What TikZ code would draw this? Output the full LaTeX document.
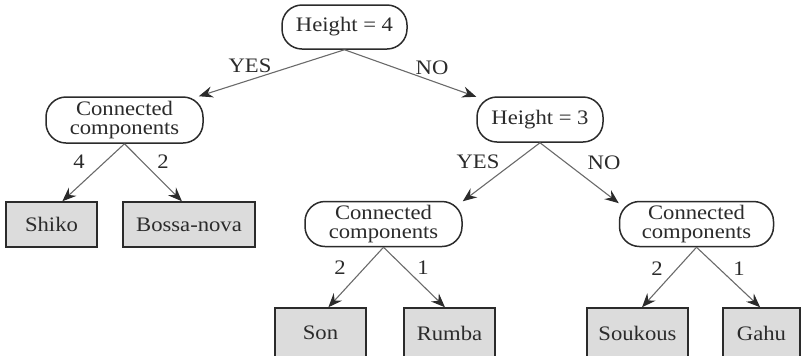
\documentclass[tikz,border=0pt]{standalone}
\usepackage{fontspec}
\setmainfont[FakeStretch=1.1]{Liberation Serif}
\usetikzlibrary{arrows.meta}

\definecolor{inkdark}{HTML}{2B2B2B}
\definecolor{linegray}{HTML}{6A6A6A}
\definecolor{leaffill}{HTML}{DCDCDC}

\begin{document}
\begin{tikzpicture}[x=0.5pt,y=-0.5pt,
  every node/.style={font=\fontsize{10.3}{9.4}\selectfont, text=inkdark},
  test/.style={draw=inkdark, line width=0.75pt, fill=white, rounded corners=10pt,
    minimum height=22.5pt, inner sep=0pt, align=center},
  leaf/.style={draw=inkdark, line width=0.75pt, fill=leaffill,
    minimum height=22.5pt, inner sep=0pt},
  edgelabel/.style={inner sep=0pt},
  branch/.style={draw=linegray, line width=0.55pt,
    -{Stealth[length=7pt,width=5.6pt,inset=2.4pt,color=inkdark]}}]

\useasboundingbox (0,0) rectangle (802,355);

% decision nodes
\node[test, minimum width=62.5pt, minimum height=22pt] (h4) at (344.5,27) {Height = 4};
\node[test, minimum width=78.5pt, minimum height=23pt] (ccl) at (124.5,120) {Connected\\components};
\node[test, minimum width=63pt] (h3) at (540,119.5) {Height = 3};
\node[test, minimum width=78.5pt] (ccm) at (383.5,224) {Connected\\components};
\node[test, minimum width=77pt] (ccr) at (696.5,224) {Connected\\components};

% leaves
\node[leaf, minimum width=45.5pt] (shiko) at (51.5,224.5) {Shiko};
\node[leaf, minimum width=66pt] (bossa) at (189,224.5) {Bossa-nova};
\node[leaf, minimum width=45.5pt, minimum height=25pt] (son) at (320.5,333) {Son};
\node[leaf, minimum width=45.5pt, minimum height=25pt] (rumba) at (449.5,333) {Rumba};
\node[leaf, minimum width=50.5pt, minimum height=25pt] (soukous) at (637.5,333) {Soukous};
\node[leaf, minimum width=38.5pt, minimum height=25pt] (gahu) at (761.5,333) {Gahu};

% branches
\draw[branch] (h4.south) -- (ccl);
\draw[branch] (h4.south) -- (h3);
\draw[branch] (ccl.south) -- (shiko.65);
\draw[branch] (ccl.south) -- (bossa.107);
\draw[branch] (h3.south) -- (ccm.16);
\draw[branch] (h3.south) -- (ccr.165);
\draw[branch] (ccm.south) -- (son.73);
\draw[branch] (ccm.south) -- (rumba.100);
\draw[branch] (ccr.south) -- (soukous.80);
\draw[branch] (ccr.south) -- (gahu.93);

% branch labels
\node[edgelabel] (l1) at (250,66) {YES};
\node[edgelabel] (l2) at (432,68) {NO};
\node[edgelabel] (l3) at (79,162) {4};
\node[edgelabel] (l4) at (163,162) {2};
\node[edgelabel] (l5) at (478,162) {YES};
\node[edgelabel] (l6) at (604,163) {NO};
\node[edgelabel] (l7) at (340,268) {2};
\node[edgelabel] (l8) at (423,268) {1};
\node[edgelabel] (l9) at (657,269) {2};
\node[edgelabel] (l10) at (739,269) {1};
\end{tikzpicture}
\end{document}
